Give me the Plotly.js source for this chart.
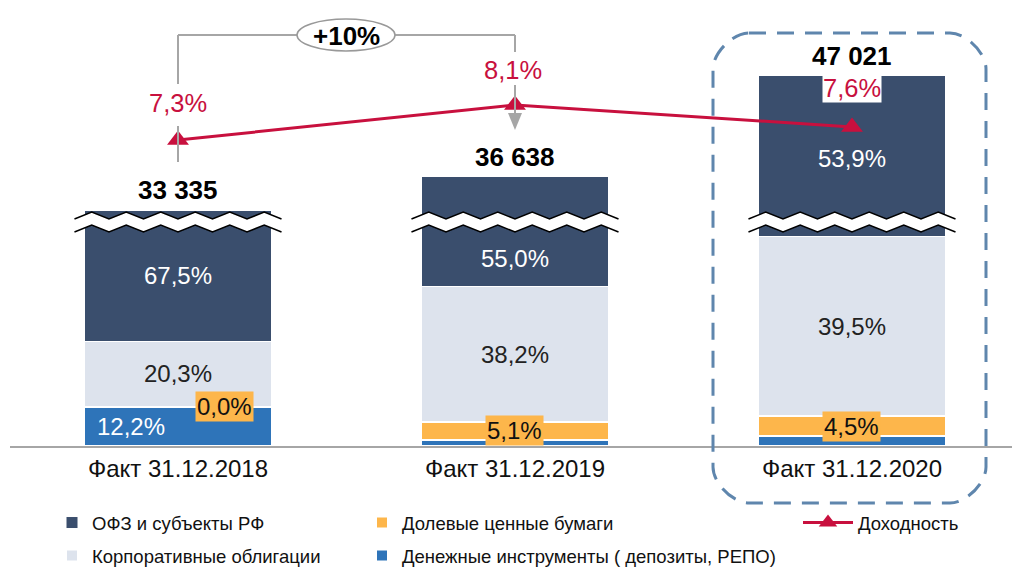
<!DOCTYPE html>
<html><head><meta charset="utf-8">
<script src="https://cdn.plot.ly/plotly-3.0.1.min.js"></script>
<style>html,body{margin:0;padding:0;background:#fff}#chart{width:1012px;height:567px}</style>
</head><body><div id="chart"></div>
<script>
// ---------- data ----------
const categories = ['Факт 31.12.2018', 'Факт 31.12.2019', 'Факт 31.12.2020'];
const totals     = [33335, 36638, 47021];          // портфель, млн руб.
const ofzPct     = [67.5, 55.0, 53.9];             // ОФЗ и субъекты РФ, %
const corpPct    = [20.3, 38.2, 39.5];             // Корпоративные облигации, %
const equityPct  = [0.0, 5.1, 4.5];                // Долевые ценные бумаги, %
const cashPct    = [12.2, 1.7, 2.1];               // Денежные инструменты, %
const ofzShown   = [13540, 11300, 16540];          // часть сегмента ОФЗ, видимая над разрывом оси
const yieldPct   = [7.3, 8.1, 7.6];                // Доходность, %
const growthText = '+10%';
const names = {
  ofz: 'ОФЗ и субъекты РФ',
  corp: 'Корпоративные облигации',
  equity: 'Долевые ценные бумаги',
  cash: 'Денежные инструменты ( депозиты, РЕПО)',
  yld: 'Доходность'
};
const showCashLabel = [true, false, false];

// ---------- colours ----------
const C = {ofz:'#3a4e6d', corp:'#dde3ed', equity:'#fdb64b', cash:'#2e74b9', red:'#c8103e', grey:'#a6a6a6', frame:'#5f86ad'};

// ---------- derived values ----------
const part = (p, i) => p[i] * totals[i] / 100;
const cashV = cashPct.map((p, i) => part(cashPct, i));
const eqV   = equityPct.map((p, i) => part(equityPct, i));
const corpV = corpPct.map((p, i) => part(corpPct, i));
const fmtPct = v => v.toFixed(1).replace('.', ',') + '%';
const fmtTot = v => String(v).replace(/\B(?=(\d{3})+(?!\d))/g, ' ');

// ---------- geometry ----------
const W = 1012, H = 567, ML = 10, MR = 0, MT = 20, MB = 121;
const PW = W - ML - MR, PH = H - MT - MB;
const XR = [-0.4985, 2.4748];
const BARW = 0.555;
const pxPerCat = PW / (XR[1] - XR[0]);
const catPx = i => ML + (i - XR[0]) * pxPerCat;
const px2x = p => (p - ML) / PW;
const px2y = p => (MT + PH - p) / PH;

const font = 'Liberation Sans, Arial, sans-serif';

// ---------- traces ----------
const barCommon = {type:'bar', x:categories, width:BARW, hoverinfo:'skip'};
const traces = [
  Object.assign({}, barCommon, {name:names.cash, y:cashV, marker:{color:C.cash, line:{color:'#fff', width:2}}, legend:'legend2', legendrank:2, legendwidth:420}),
  Object.assign({}, barCommon, {name:names.equity, y:eqV, marker:{color:C.equity, line:{color:'#fff', width:2}}, legend:'legend', legendrank:2, legendwidth:300}),
  Object.assign({}, barCommon, {name:names.corp, y:corpV, marker:{color:C.corp, line:{color:'#fff', width:2}}, legend:'legend2', legendrank:1}),
  Object.assign({}, barCommon, {name:names.ofz, y:ofzShown, marker:{color:C.ofz, line:{color:'#fff', width:1}}, legend:'legend', legendrank:1}),
  {type:'scatter', mode:'lines+markers', name:names.yld, x:categories, y:yieldPct, yaxis:'y2',
   line:{color:C.red, width:3}, marker:{symbol:'triangle-up', size:19, color:C.red}, legend:'legend3', hoverinfo:'skip'}
];

// ---------- annotations ----------
const ann = [];
const ofzLabelShift = [0, -27, -2];
categories.forEach((c, i) => {
  const base = cashV[i] + eqV[i];
  const top = base + corpV[i] + ofzShown[i];
  ann.push({x:c, y:top, xref:'x', yref:'y', text:'<b>' + fmtTot(totals[i]) + '</b>', showarrow:false, yanchor:'bottom', yshift:3, font:{size:26, color:'#000'}});
  ann.push({x:c, y:base + corpV[i] + ofzShown[i] / 2, xref:'x', yref:'y', text:fmtPct(ofzPct[i]), showarrow:false, yshift:ofzLabelShift[i], font:{size:24, color:'#ffffff'}});
  ann.push({x:c, y:base + corpV[i] / 2, xref:'x', yref:'y', text:fmtPct(corpPct[i]), showarrow:false, font:{size:24, color:'#222'}});
  if (showCashLabel[i]) {
    ann.push({x:c, y:cashV[i] / 2, xref:'x', yref:'y', text:fmtPct(cashPct[i]), showarrow:false, xshift:-47, font:{size:24, color:'#ffffff'}});
    ann.push({x:c, y:cashV[i] + eqV[i] / 2, xref:'x', yref:'y', text:fmtPct(equityPct[i]), showarrow:false, xshift:47, bgcolor:C.equity, borderpad:1, font:{size:24, color:'#111'}});
  } else {
    ann.push({x:c, y:cashV[i] + eqV[i] / 2, xref:'x', yref:'y', text:fmtPct(equityPct[i]), showarrow:false, bgcolor:C.equity, borderpad:1, font:{size:24, color:'#111'}});
  }
});
const yieldShift = [37, 35, 39];
categories.forEach((c, i) => {
  ann.push({x:c, y:yieldPct[i], xref:'x', yref:'y2', text:fmtPct(yieldPct[i]), showarrow:false, yshift:yieldShift[i], xshift:(i===1?-2:0),
            bgcolor:'#ffffff', borderpad:0, font:{size:25.5, color:C.red}});
});
// +10% bubble
const bubble = {cx:346, cy:35, rx:49, ry:16};
ann.push({x:px2x(bubble.cx), y:px2y(bubble.cy + 1), xref:'paper', yref:'paper', xanchor:'center', yanchor:'middle',
          text:'<b>' + growthText + '</b>', showarrow:false, font:{size:26, color:'#000'}});

// ---------- shapes ----------
const shapes = [];
const line = (x0, y0, x1, y1, color, width) => ({type:'line', xref:'paper', yref:'paper', x0:px2x(x0), y0:px2y(y0), x1:px2x(x1), y1:px2y(y1), line:{color:color, width:width}});
// axis breaks
categories.forEach((c, i) => {
  const halfW = BARW / 2 * pxPerCat;
  const L = catPx(i) - halfW - 10, R = catPx(i) + halfW + 10;
  const n = 12, amp = 3.5, yU = 215.5, yL = 228.5;
  const pts = (yc) => { const a = []; for (let k = 0; k <= n; k++) a.push([L + k * (R - L) / n, yc + (k % 2 === 0 ? amp : -amp)]); return a; };
  const up = pts(yU), lo = pts(yL);
  const toP = p => px2x(p[0]).toFixed(5) + ',' + px2y(p[1]).toFixed(5);
  let band = 'M' + up.map(toP).join('L') + 'L' + lo.slice().reverse().map(toP).join('L') + 'Z';
  shapes.push({type:'path', xref:'paper', yref:'paper', path:band, fillcolor:'#ffffff', line:{width:0}});
  shapes.push({type:'path', xref:'paper', yref:'paper', path:'M' + up.map(toP).join('L'), line:{color:'#000', width:1.5}});
  shapes.push({type:'path', xref:'paper', yref:'paper', path:'M' + lo.map(toP).join('L'), line:{color:'#000', width:1.5}});
});
// growth bracket
const xa = catPx(0), xb = catPx(1);
shapes.push(line(xa, bubble.cy, xb, bubble.cy, C.grey, 2));
shapes.push(line(xa, bubble.cy, xa, 84, C.grey, 2));
shapes.push(line(xa, 126, xa, 162, C.grey, 2));
shapes.push(line(xb, bubble.cy, xb, 52, C.grey, 2));
shapes.push(line(xb, 85, xb, 115, C.grey, 2));
shapes.push({type:'path', xref:'paper', yref:'paper', fillcolor:C.grey, line:{width:0},
  path:'M' + px2x(xb - 7) + ',' + px2y(113) + 'L' + px2x(xb + 7) + ',' + px2y(113) + 'L' + px2x(xb) + ',' + px2y(130) + 'Z'});
shapes.push({type:'circle', xref:'paper', yref:'paper', x0:px2x(bubble.cx - bubble.rx), x1:px2x(bubble.cx + bubble.rx),
  y0:px2y(bubble.cy + bubble.ry), y1:px2y(bubble.cy - bubble.ry), fillcolor:'#ffffff', line:{color:'#999', width:1.5}});
// dashed highlight frame around the last column
(function(){
  const L = 713, R = 986, T = 33, B = 503, r = 36, k = 0.45 * r;
  const P = (x, y) => px2x(x).toFixed(5) + ',' + px2y(y).toFixed(5);
  const path = 'M' + P(L + r, T) + 'L' + P(R - r, T) +
    'C' + P(R - r + k, T) + ' ' + P(R, T + r - k) + ' ' + P(R, T + r) +
    'L' + P(R, B - r) +
    'C' + P(R, B - r + k) + ' ' + P(R - r + k, B) + ' ' + P(R - r, B) +
    'L' + P(L + r, B) +
    'C' + P(L + r - k, B) + ' ' + P(L, B - r + k) + ' ' + P(L, B - r) +
    'L' + P(L, T + r) +
    'C' + P(L, T + r - k) + ' ' + P(L + r - k, T) + ' ' + P(L + r, T) + 'Z';
  shapes.push({type:'path', xref:'paper', yref:'paper', path:path, line:{color:C.frame, width:3, dash:'17px,11px'}, fillcolor:'rgba(0,0,0,0)'});
})();

// ---------- layout ----------
const legendBase = {orientation:'h', xanchor:'left', yanchor:'middle', bgcolor:'rgba(0,0,0,0)', font:{size:18.5, color:'#111', family:font}, traceorder:'normal', entrywidthmode:'pixels'};
const layout = {
  width:W, height:H, margin:{l:ML, r:MR, t:MT, b:MB, pad:0, autoexpand:false},
  paper_bgcolor:'#ffffff', plot_bgcolor:'#ffffff',
  font:{family:font, color:'#111'},
  barmode:'stack', bargap:0,
  showlegend:true,
  xaxis:{type:'category', range:XR, showline:true, linecolor:C.grey, linewidth:2, ticks:'', showgrid:false, zeroline:false,
         tickfont:{size:24, color:'#111', family:font}, fixedrange:true, automargin:false},
  yaxis:{range:[0, 44000], visible:false, showgrid:false, zeroline:false, fixedrange:true},
  yaxis2:{range:[0.306, 10.043], overlaying:'y', visible:false, showgrid:false, zeroline:false, fixedrange:true},
  legend:Object.assign({}, legendBase, {x:px2x(52), y:px2y(523), entrywidth:265}),
  legend2:Object.assign({}, legendBase, {x:px2x(52), y:px2y(556), entrywidth:265}),
  legend3:Object.assign({}, legendBase, {x:px2x(798), y:px2y(523), itemwidth:50}),
  annotations:ann,
  shapes:shapes
};
Plotly.newPlot('chart', traces, layout, {displayModeBar:false, staticPlot:true});
</script></body></html>
